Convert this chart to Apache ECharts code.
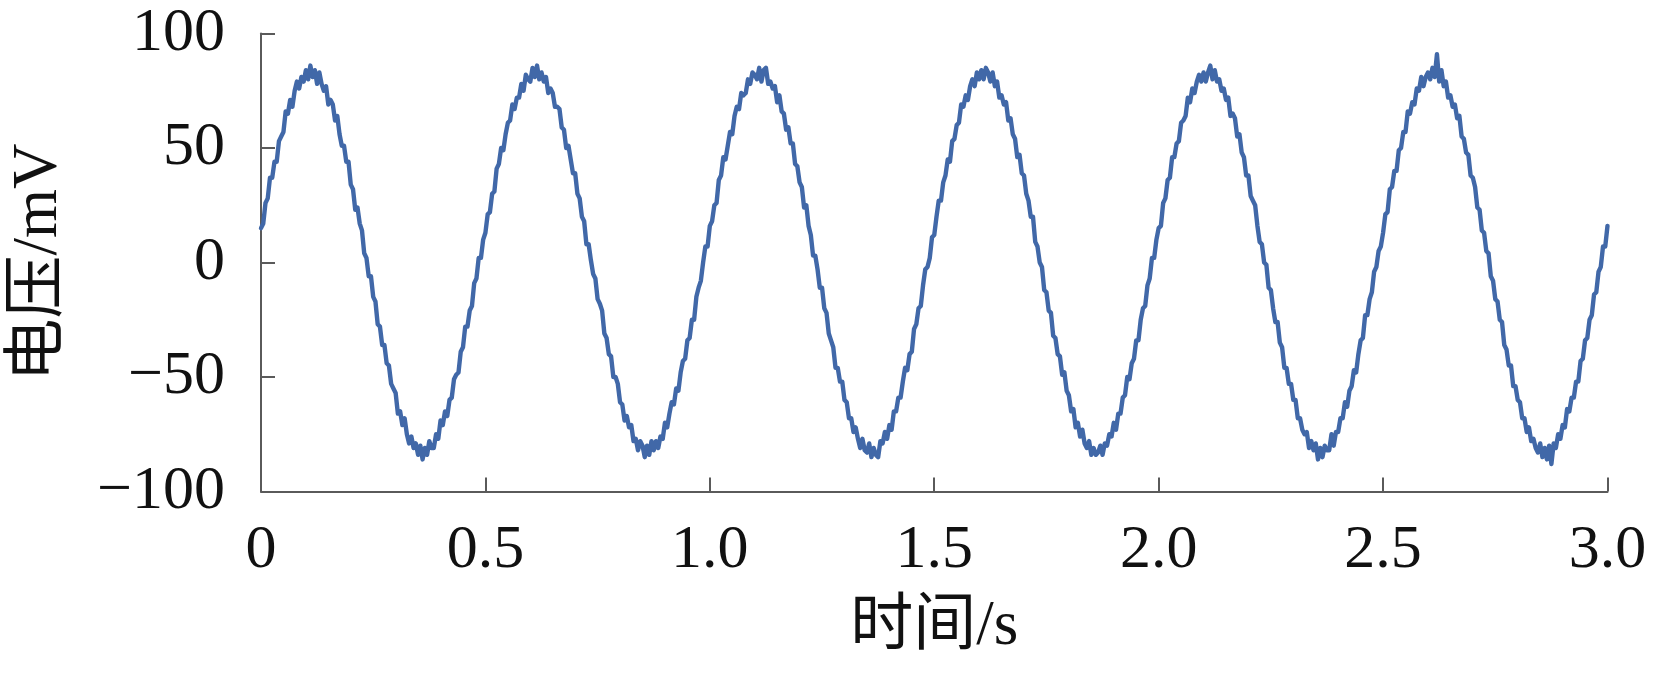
<!DOCTYPE html>
<html>
<head>
<meta charset="utf-8">
<script src="https://cdn.jsdelivr.net/npm/echarts@6/dist/echarts.min.js"></script>
<style>
html,body{margin:0;padding:0;background:#fff;}
#chart{width:1657px;height:674px;}
</style>
</head>
<body>
<div id="chart"></div>
<script>
// Sampling step of the recorded signal (s)
const sampleStep = 0.005;
const xTicks = [0, 0.5, 1.0, 1.5, 2.0, 2.5, 3.0];
const yTicks = [-100, -50, 0, 50, 100];
const xName = '时间/s';
const yName = '电压/mV';

// Voltage readings (mV), one per sample, one array per 0.5 s cycle
const voltCycle1 = [15,17,26,28,37,37,44,44,53,55,57,66,65,71,68,75,79,76,81,79,84,80,86,81,84,78,83,78,75,77,69,71,69,62,64,56,51,51,44,44,34,32,23,24,17,14,4,2,-6,-6,-15,-17,-27,-28,-36,-36,-44,-45,-53,-55,-57,-66,-65,-71,-68,-75,-79,-76,-81,-79,-84,-80,-86,-81,-84,-78,-81,-81,-75,-77,-69,-71,-65,-67,-60,-59,-51,-49,-48,-39,-37,-28,-28,-21,-19,-9,-7,2,2,10];
const voltCycle2 = [13,21,22,30,31,41,43,50,49,56,61,62,69,67,72,72,78,75,82,80,79,85,81,86,80,83,79,81,74,76,74,68,68,67,59,58,50,51,45,39,39,30,28,20,18,8,8,1,-5,-7,-16,-18,-21,-31,-33,-40,-41,-50,-50,-53,-61,-62,-69,-67,-72,-71,-78,-77,-82,-78,-80,-85,-80,-84,-78,-82,-78,-81,-76,-77,-70,-72,-66,-61,-62,-55,-56,-48,-43,-42,-34,-33,-25,-25,-15,-11,-8,0,7,7];
const voltCycle3 = [16,18,25,26,36,38,46,45,51,57,56,64,68,67,74,73,74,80,78,83,82,80,85,79,84,85,78,79,76,77,70,73,66,65,58,59,52,52,43,42,35,33,24,25,16,12,3,3,-3,-11,-11,-20,-22,-31,-34,-37,-46,-46,-52,-52,-60,-61,-68,-68,-74,-72,-77,-81,-77,-82,-83,-79,-85,-81,-84,-85,-78,-79,-74,-77,-71,-73,-65,-65,-59,-59,-52,-46,-47,-40,-39,-29,-27,-20,-19,-10,-3,-2,2,11];
const voltCycle4 = [12,20,27,27,35,38,45,44,53,54,60,61,69,68,73,71,77,80,77,83,80,84,80,85,83,79,83,77,79,72,73,69,70,62,63,56,54,46,47,39,38,30,27,20,20,9,7,0,-2,-12,-13,-21,-22,-32,-33,-40,-41,-49,-48,-56,-58,-65,-64,-72,-70,-76,-73,-79,-81,-78,-84,-81,-84,-83,-80,-84,-79,-80,-75,-76,-70,-73,-66,-66,-59,-58,-50,-51,-44,-42,-34,-34,-25,-20,-19,-10,-7,2,2,10];
const voltCycle5 = [15,16,26,28,36,37,46,46,52,53,61,62,64,72,70,76,74,79,82,79,83,79,83,86,80,84,79,80,75,76,71,72,64,65,63,55,56,48,46,38,38,29,27,25,16,9,8,0,-1,-11,-12,-20,-26,-26,-35,-37,-46,-46,-53,-53,-60,-60,-68,-68,-73,-75,-74,-81,-78,-82,-79,-86,-81,-85,-80,-82,-82,-75,-80,-74,-74,-68,-68,-61,-63,-56,-54,-47,-48,-40,-34,-33,-23,-23,-16,-13,-4,-2,5,7];
const voltCycle6 = [13,21,22,32,33,40,40,49,50,57,57,66,65,70,69,76,75,81,77,81,83,80,85,81,91,79,84,77,79,72,73,68,69,63,64,55,54,48,47,38,37,33,24,23,14,13,5,4,-6,-8,-16,-17,-25,-26,-36,-38,-45,-45,-54,-54,-60,-61,-68,-68,-74,-72,-78,-77,-81,-83,-79,-85,-81,-86,-80,-88,-79,-81,-75,-77,-71,-72,-64,-65,-59,-59,-52,-52,-43,-42,-34,-33,-25,-23,-14,-13,-4,-2,7,7,16];

const voltage = [].concat(voltCycle1, voltCycle2, voltCycle3, voltCycle4, voltCycle5, voltCycle6);
const seriesData = voltage.map((v, i) => [i * sampleStep, v]);

const serif = '"Liberation Serif", "Times New Roman", "Noto Sans CJK SC", serif';
const axisColor = '#5a5a5a';
const textColor = '#111111';

const chart = echarts.init(document.getElementById('chart'), null, {renderer: 'canvas'});
chart.setOption({
  animation: false,
  backgroundColor: '#ffffff',
  grid: {left: 247.5, right: 49.5, top: 33.5, bottom: 182.5, containLabel: false},
  xAxis: {
    type: 'value',
    min: xTicks[0],
    max: xTicks[xTicks.length - 1],
    interval: 0.5,
    name: xName,
    nameLocation: 'middle',
    nameGap: 104,
    nameTextStyle: {fontFamily: serif, fontSize: 63, color: textColor},
    axisLine: {show: true, onZero: false, lineStyle: {color: axisColor, width: 2}},
    axisTick: {show: true, inside: true, length: 14, lineStyle: {color: axisColor, width: 2}},
    splitLine: {show: false},
    axisLabel: {
      fontFamily: serif, fontSize: 62, color: textColor, margin: 28,
      formatter: v => (v === 0 ? '0' : v.toFixed(1))
    }
  },
  yAxis: {
    type: 'value',
    min: yTicks[0],
    max: yTicks[yTicks.length - 1],
    interval: 50,
    name: yName,
    nameLocation: 'middle',
    nameGap: 190,
    nameRotate: 90,
    nameTextStyle: {fontFamily: serif, fontSize: 63, color: textColor},
    axisLine: {show: true, lineStyle: {color: axisColor, width: 2}},
    axisTick: {show: true, inside: true, length: 14, lineStyle: {color: axisColor, width: 2}},
    splitLine: {show: false},
    axisLabel: {
      fontFamily: serif, fontSize: 62, color: textColor, margin: 36,
      formatter: v => String(v).replace('-', '\u2212')
    }
  },
  series: [{
    type: 'line',
    data: seriesData,
    showSymbol: false,
    symbol: 'none',
    smooth: false,
    lineStyle: {color: '#4168a8', width: 4.4, join: 'round', cap: 'round'},
    clip: true
  }]
});
</script>
</body>
</html>
